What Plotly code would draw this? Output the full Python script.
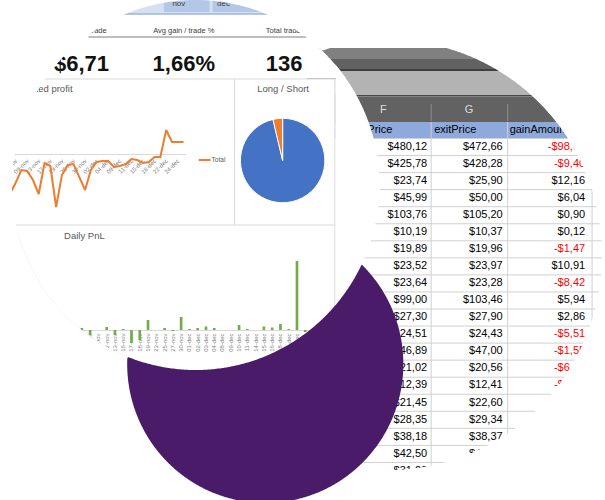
import numpy as np
import plotly.graph_objects as go

W, H = 605, 500

# ---------------- data ----------------
dates = ["02-nov", "03-nov", "05-nov", "06-nov", "09-nov", "12-nov", "13-nov", "16-nov",
         "17-nov", "18-nov", "19-nov", "23-nov", "25-nov", "27-nov", "30-nov", "01-dec",
         "02-dec", "03-dec", "04-dec", "08-dec", "09-dec", "10-dec", "11-dec", "14-dec",
         "15-dec", "16-dec", "18-dec", "21-dec", "22-dec", "23-dec", "24-dec", "28-dec"]
cum_profit = [-30, -40, -29, -16, -17, -26, -40, -9, -12, -53, -21, -11, -10, -23, -36, -16,
              -8, -7, -7, -13, -12, -10, -5, -6, -9, -8, -3, -3, 24, 12, 12, 12]
daily_pnl = [1, 0, 1.5, -5, 0, 3, -5, 1, -13, -10, 10, 0, 2, -1, 13, 0.8,
             2, 3.5, 2, 0, 0, 5, 1, 0, 3.5, 2.5, 6, 1, 69, -2, -10, 0]

pie_labels = ["Long", "Short"]
pie_values = [131, 5]

kpi_titles = ["Avg gain / trade", "Avg gain / trade %", "Total trades"]
kpi_values = ["$6,71", "1,66%", "136"]
slicer_months = ["nov", "dec"]

sheet_cols = ["F", "G", "H"]
sheet_headers = ["entryPrice", "exitPrice", "gainAmount"]
entry_price = ["$480,12", "$425,78", "$23,74", "$45,99", "$103,76", "$10,19", "$19,89",
               "$23,52", "$23,64", "$99,00", "$27,30", "$24,51", "$46,89", "$21,02",
               "$12,39", "$21,45", "$28,35", "$38,18", "$42,50", "$31,20"]
exit_price = ["$472,66", "$428,28", "$25,90", "$50,00", "$105,20", "$10,37", "$19,96",
              "$23,97", "$23,28", "$103,46", "$27,90", "$24,43", "$47,00", "$20,56",
              "$12,41", "$22,60", "$29,34", "$38,37", "$43,12", "$31,95"]
gain_amount = ["-$98,04", "-$9,40", "$12,16", "$6,04", "$0,90", "$0,12", "-$1,47",
               "$10,91", "-$8,42", "$5,94", "$2,86", "-$5,51", "-$1,55", "-$6,21",
               "-$0,26", "$4,60", "$3,96", "$0,57", "$2,48", "$3,75"]

# ---------------- style / geometry ----------------
ORANGE = "#ED7D31"
BLUE = "#4472C4"
GREEN = "#70AD47"
PURPLE = "#4a1b68"
FONT = "Liberation Sans, Arial, sans-serif"
C1 = (193.0, 185.0, 185.0)   # dashboard disc
C2 = (387.0, 255.0, 215.0)   # spreadsheet disc
C3 = (263.0, 364.0, 139.0)   # purple disc


def fx(x):
    return x / W


def fy(y):
    return 1 - y / H


def circ(c, n=720):
    th = np.linspace(0, 2 * np.pi, n, endpoint=False)
    return np.c_[c[0] + c[2] * np.cos(th), c[1] + c[2] * np.sin(th)]


def inside(pts, c):
    return np.hypot(pts[:, 0] - c[0], pts[:, 1] - c[1]) < c[2]


def run(mask):
    n = len(mask)
    if mask.all():
        return list(range(n))
    start = next(i for i in range(n) if mask[i] and not mask[i - 1])
    idx, i = [], start
    while mask[i % n] and len(idx) < n:
        idx.append(i % n)
        i += 1
    return idx


def clip(poly, xmin, xmax, ymin, ymax):
    pts = [np.array(p, dtype=float) for p in poly]
    for axis, val, keep_gt in [(0, xmin, True), (0, xmax, False), (1, ymin, True), (1, ymax, False)]:
        out = []
        n = len(pts)
        for i in range(n):
            cur, prev = pts[i], pts[i - 1]
            cin = cur[axis] >= val if keep_gt else cur[axis] <= val
            pin = prev[axis] >= val if keep_gt else prev[axis] <= val
            if cin:
                if not pin:
                    t = (val - prev[axis]) / (cur[axis] - prev[axis])
                    out.append(prev + t * (cur - prev))
                out.append(cur)
            elif pin:
                t = (val - prev[axis]) / (cur[axis] - prev[axis])
                out.append(prev + t * (cur - prev))
        pts = out
    return np.array(pts)


def poly_path(pts):
    return "M" + " L".join(f"{fx(x):.5f},{fy(y):.5f}" for x, y in pts) + " Z"


shapes = []


def rect(x0, y0, x1, y1, color, layer="below"):
    shapes.append(dict(type="rect", xref="paper", yref="paper", x0=fx(x0), x1=fx(x1),
                       y0=fy(y1), y1=fy(y0), fillcolor=color, line_width=0, layer=layer))


def seg(x0, y0, x1, y1, color, w=1, layer="below"):
    shapes.append(dict(type="line", xref="paper", yref="paper", x0=fx(x0), x1=fx(x1),
                       y0=fy(y0), y1=fy(y1), line=dict(color=color, width=w), layer=layer))


# ---------- spreadsheet background (below) ----------
rect(305, 48, 605, 59, "#808080")
rect(305, 59, 605, 69, "#626262")
rect(305, 69, 605, 71, "#3f3f3f")
rect(305, 71, 605, 79, "#b3b3b3")
rect(334, 79, 605, 95, "#b3b3b3")
rect(334, 95, 605, 96.5, "#474747")
rect(334, 96.5, 605, 122, "#626262")
rect(334, 122, 605, 138.5, "#8EA9DB")
for xb in (430, 507, 592):
    seg(xb, 104, xb, 121, "#8f8f8f")
ROW_H = 17.05
for k in range(len(entry_price) + 2):
    yy = 138.5 + ROW_H * k
    seg(334, yy, 605, yy, "#d0d0d0")
for xb in (430, 507, 592):
    seg(xb, 122, xb, 500, "#d0d0d0")

# ---------- dashboard background (below) ----------
rect(110, -6, 280, 14, "#d5e0f2")
seg(110, 14, 280, 14, "#9db5e0", 1.5)
rect(161, -6, 207, 12, "#b4c7e7")
rect(210, -6, 262, 12, "#b4c7e7")
seg(85, 37, 305, 37, "#7f7f7f", 1)
seg(0, 79, 333, 79, "#d9d9d9")
seg(0, 225, 333, 225, "#d9d9d9")
seg(232, 79, 232, 225, "#d9d9d9")
seg(333, 79, 333, 340, "#d9d9d9")
seg(196, 160, 208, 160, ORANGE, 2)

# ---------- masks (above) ----------
p1, p2, p3 = circ(C1), circ(C2), circ(C3)
A = p1[run(~inside(p1, C2))]
B = p2[run(~inside(p2, C1))]
union = np.vstack([A, B])
big = np.array([[-20, -20], [W + 20, -20], [W + 20, H + 20], [-20, H + 20]])
shapes.append(dict(type="path", xref="paper", yref="paper", layer="above",
                   path=poly_path(big) + " " + poly_path(union), fillrule="evenodd",
                   fillcolor="white", line_width=0))
for poly in (clip(p1, 334, 700, -50, 600), clip(p1, 305, 700, -50, 78)):
    shapes.append(dict(type="path", xref="paper", yref="paper", layer="above",
                       path=poly_path(poly), fillcolor="white", line_width=0))
pa = p3[run(~inside(p3, C1))]
pb = p1[run(inside(p1, C3))][::-1]
shapes.append(dict(type="path", xref="paper", yref="paper", layer="above",
                   path=poly_path(np.vstack([pa, pb])), fillcolor=PURPLE, line_width=0))
po = circ(C1, 360)
mo = (~inside(po, C2)) & (~inside(po, C3)) & (po[:, 1] > 230)
segs = []
for i in range(len(po)):
    j = (i + 1) % len(po)
    if mo[i] and mo[j]:
        segs.append(f"M{fx(po[i,0]):.5f},{fy(po[i,1]):.5f} L{fx(po[j,0]):.5f},{fy(po[j,1]):.5f}")
shapes.append(dict(type="path", xref="paper", yref="paper", layer="above",
                   path=" ".join(segs), fillcolor="rgba(0,0,0,0)",
                   line=dict(color="rgba(0,0,0,0.04)", width=1)))

# ---------------- figure ----------------
fig = go.Figure()

# cumulative profit line
fig.add_trace(go.Scatter(x=dates, y=cum_profit, mode="lines", xaxis="x", yaxis="y",
                         line=dict(color=ORANGE, width=2), hoverinfo="skip"))
# daily pnl bars
fig.add_trace(go.Bar(x=dates, y=daily_pnl, xaxis="x2", yaxis="y2",
                     marker=dict(color=GREEN, line_width=0), hoverinfo="skip"))
# long/short pie
fig.add_trace(go.Pie(labels=pie_labels, values=pie_values, sort=False, direction="clockwise",
                     rotation=0, textinfo="none", hoverinfo="skip",
                     marker=dict(colors=[BLUE, ORANGE], line=dict(color="white", width=1)),
                     domain=dict(x=[fx(238), fx(323)], y=[fy(203), fy(118)])))


def texts(xs, ys, txt, size, color, pos="middle center", family=FONT):
    fig.add_trace(go.Scatter(x=xs, y=ys, text=txt, mode="text", textposition=pos,
                             textfont=dict(family=family, size=size, color=color),
                             xaxis="x3", yaxis="y3", hoverinfo="skip", cliponaxis=False))


# dashboard texts
texts([176, 221], [4, 4], slicer_months, 8, "#404040")
texts([77, 181, 283], [31, 31, 31], kpi_titles, 7.5, "#404040")
texts([78, 181, 282], [65, 65, 65], [f"<b>{v}</b>" for v in kpi_values], 22, "#111111")
texts([69], [90], ["Cumulated profit"], 9.5, "#595959", "middle left")
texts([281], [90], ["Long / Short"], 9.5, "#595959")
texts([81], [237], ["Daily PnL"], 9.5, "#595959")
texts([209], [160], ["Total"], 6.5, "#595959", "middle right")

# spreadsheet texts
texts([382, 468, 551], [110, 110, 110], sheet_cols, 11, "#dddddd")
texts([391], [130], [sheet_headers[0]], 11, "#000000", "middle left")
texts([433, 509], [130, 130], sheet_headers[1:], 11, "#000000", "middle right")
rows_y = [147 + ROW_H * i for i in range(len(entry_price))]
texts([426] * len(entry_price), rows_y, entry_price, 11, "#000000", "middle left")
texts([502] * len(exit_price), rows_y, exit_price, 11, "#000000", "middle left")
fig.add_trace(go.Scatter(x=[585] * len(gain_amount), y=rows_y, text=gain_amount, mode="text",
                         textposition="middle left",
                         textfont=dict(family=FONT, size=11,
                                       color=["#ff0000" if g.startswith("-") else "#000000"
                                              for g in gain_amount]),
                         xaxis="x3", yaxis="y3", hoverinfo="skip", cliponaxis=False))

x0_line, step_line = 0.0, 5.83
x0_bar, step_bar = 61.7, 8.33
fig.update_layout(
    width=W, height=H, margin=dict(l=0, r=0, t=0, b=0),
    paper_bgcolor="white", plot_bgcolor="rgba(0,0,0,0)", showlegend=False,
    bargap=0.68, shapes=shapes,
    xaxis=dict(type="category", categoryorder="array", categoryarray=dates,
               range=[0.2, 31.5],
               domain=[fx(x0_line + 0.2 * step_line), fx(x0_line + 31.5 * step_line)],
               anchor="free", position=fy(154), showline=True, linecolor="#d9d9d9",
               linewidth=1, showgrid=False, zeroline=False, ticks="", tickangle=-45,
               tickvals=dates[::2], ticktext=dates[::2],
               tickfont=dict(family=FONT, size=6, color="#7f7f7f"),
               layer="below traces", fixedrange=True),
    yaxis=dict(range=[-60, 40], domain=[fy(214), fy(114)], visible=False,
               showgrid=False, zeroline=False, fixedrange=True),
    xaxis2=dict(type="category", categoryorder="array", categoryarray=dates,
                range=[-0.5, 31.5],
                domain=[fx(x0_bar - 0.5 * step_bar), fx(x0_bar + 31.5 * step_bar)],
                anchor="free", position=fy(330), showline=True, linecolor="#d9d9d9",
                showgrid=False, zeroline=False, ticks="", tickangle=-90,
                tickfont=dict(family=FONT, size=6, color="#7f7f7f"),
                layer="below traces", fixedrange=True),
    yaxis2=dict(range=[-30, 80], domain=[fy(360), fy(250)], visible=False,
                showgrid=False, zeroline=False, anchor="x2", fixedrange=True),
    xaxis3=dict(domain=[0, 1], range=[0, W], visible=False, anchor="y3", fixedrange=True),
    yaxis3=dict(domain=[0, 1], range=[H, 0], visible=False, anchor="x3", fixedrange=True),
)

fig.write_html("out.html")
